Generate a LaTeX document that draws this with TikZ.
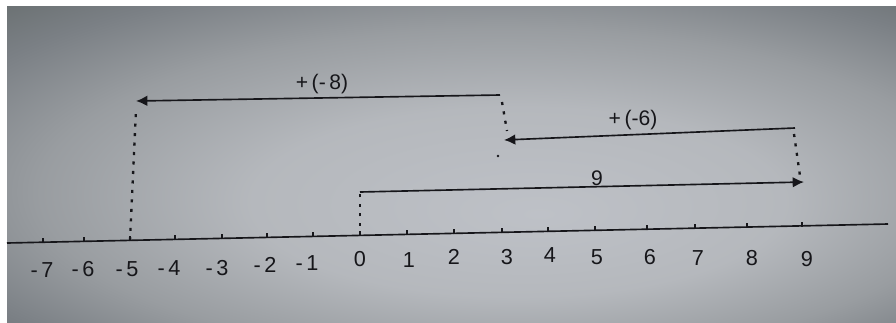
\documentclass[tikz,border=0pt]{standalone}
\usepackage{fontspec}
\setmainfont{Liberation Sans}
\usetikzlibrary{arrows.meta}
\pgfdeclareradialshading{papershade}{\pgfpoint{5bp}{-8bp}}{%
 rgb(0bp)=(0.745,0.757,0.78);
 rgb(15bp)=(0.71,0.722,0.74);
 rgb(26bp)=(0.60,0.615,0.63);
 rgb(34bp)=(0.48,0.50,0.52);
 rgb(39bp)=(0.42,0.443,0.45);
 rgb(45bp)=(0.31,0.333,0.345);
 rgb(60bp)=(0.31,0.333,0.345)}
\definecolor{ink}{RGB}{22,22,26}
\begin{document}
\begin{tikzpicture}[x=0.03cm,y=-0.03cm,
  axisline/.style={draw=ink,line width=1.4pt},
  tickmark/.style={draw=ink,line width=1.6pt},
  jump/.style={draw=ink,line width=1.4pt,-{Latex[length=3.4mm,width=3.2mm]}},
  guide/.style={draw=ink,line width=2pt,dash pattern=on 2.6pt off 5.5pt},
  numlab/.style={text=ink,font=\fontsize{18.5}{20}\selectfont,inner sep=0pt},
  jumplab/.style={text=ink,font=\fontsize{18}{20}\selectfont,inner sep=0pt}]
\useasboundingbox (0,0) rectangle (896,322);
\fill[white] (0,0) rectangle (896,322);
\shade[shading=papershade] (7,6) rectangle (896,322);
% number line
\coordinate (axL) at (7,243);
\coordinate (axR) at (888,224);
\draw[axisline] (axL) -- (axR);
\foreach \v/\tx/\lx/\ly in {-7/43/42/270,-6/84/83/269,-5/130/127/269,-4/175/169/268,-3/222/217/268,-2/267/265/265,-1/313/307/263,0/360/360/259,1/407/409/260,2/454/454/257,3/502/507/257,4/548/550/255,5/595/597/257,6/647/650/257,7/695/698/258,8/747/752/258,9/802/807/259}{
  \coordinate (t\v) at (\tx,{243-(\tx-7)*0.02157});
  \draw[tickmark] (t\v) ++(0,1) -- ++(0,-5);
  \ifnum\v<0
    \node[numlab] (l\v) at (\lx,\ly) {-\,\the\numexpr-\v\relax};
  \else
    \node[numlab] (l\v) at (\lx,\ly) {\v};
  \fi
}
% jump 9
\coordinate (n9s) at (360,192);
\coordinate (n9e) at (804,182);
\draw[guide] (t0) -- (n9s);
\draw[jump] (n9s) -- (n9e);
\node[jumplab] (lab9) at (597,178) {9};
% jump +(-6)
\coordinate (m6s) at (795,128);
\coordinate (m6e) at (504,140);
\coordinate (g6a) at (794,134);
\coordinate (g6b) at (800,176);
\draw[guide] (g6a) -- (g6b);
\draw[jump] (m6s) -- (m6e);
\node[jumplab] (lab6) at (633,120) {+\,(-6)};
% jump +(-8)
\coordinate (m8s) at (500,95);
\coordinate (m8e) at (136,101);
\coordinate (g8a) at (502,102);
\coordinate (g8b) at (507,131);
\draw[guide] (g8a) -- (g8b);
\fill[ink] (498,156) circle (1.3);
\draw[jump] (m8s) -- (m8e);
\node[jumplab] (lab8) at (322,84) {+\,(-\,8)};
\coordinate (g5top) at (136,110);
\draw[guide] (t-5) -- (g5top);
\end{tikzpicture}
\end{document}
